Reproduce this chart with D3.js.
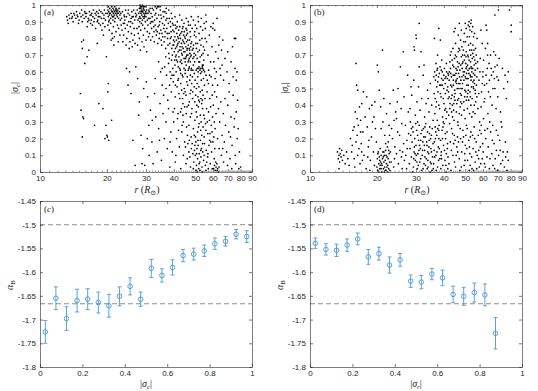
<!DOCTYPE html>
<html><head><meta charset="utf-8">
<script src="https://cdn.jsdelivr.net/npm/d3@7"></script>
<style>body{margin:0;background:#fff}</style>
</head><body>
<svg id="fig" width="538" height="391"></svg>
<script>
// panel (a): [r, |sigma_c|]
var scatterA = [
[13.2,.93],[13.3,.91],[13.5,.94],[13.6,.92],[13.8,.95],[14.0,.93],[14.1,.90],[14.3,.94],[14.5,.92],[14.6,.96],[14.8,.93],[15.0,.91],[15.1,.95],[15.3,.93],[15.5,.90],[15.6,.94],[15.8,.92],[15.9,.96],[13.4,.89],[14.2,.95],[14.9,.89],[15.4,.97],
[16.1,.93],[16.2,.95],[16.4,.90],[16.5,.92],[16.7,.96],[16.8,.94],[17.0,.91],[17.1,.95],[17.3,.93],[17.4,.97],[17.6,.92],[17.7,.95],[17.9,.94],[18.0,.96],[18.2,.91],[18.3,.95],[18.5,.97],[18.6,.93],[18.8,.96],[18.9,.92],[19.1,.95],[19.2,.89],[19.4,.94],[19.5,.97],[19.7,.91],[19.8,.95],[16.3,.87],[17.2,.88],[17.8,.86],[18.4,.89],[19.0,.85],[19.6,.87],[16.9,.89],[18.7,.88],[19.3,.82],[17.5,.90],[16.6,.91],[18.1,.90],
[15.4,.78],[15.7,.79],[15.5,.74],[15.9,.65],[16.3,.69],[16.6,.73],[15.2,.47],[15.3,.37],[15.6,.33],[15.7,.32],[15.5,.21],[18.1,.77],[18.4,.41],[17.6,.28],[19.2,.38],[19.9,.69],[20.3,.53],[20.2,.48],[19.8,.28],[20.0,.22],[20.4,.19],[20.1,.21],[21.0,.31],[19.6,.20],[21.2,.80],[21.5,.76],
[20.1,.95],[20.2,.97],[20.3,.93],[20.4,.96],[20.5,.94],[20.6,.98],[20.7,.95],[20.8,.92],[20.9,.97],[21.0,.94],[21.1,.96],[21.2,.93],[21.3,.98],[21.4,.95],[21.5,.97],[21.6,.94],[21.7,.96],[21.8,.92],[21.9,.95],[22.0,.98],[22.1,.94],[22.2,.96],[22.3,.93],[22.4,.97],[22.5,.95],[22.6,.92],[22.8,.96],[22.9,.94],[20.3,.99],[20.6,.95],[21.0,.99],[21.4,.93],[21.7,.99],[22.1,.97],[20.5,.91],[21.2,.96],[21.9,.97],[22.3,.95],
[20.2,.88],[20.5,.85],[20.8,.89],[21.1,.83],[21.4,.87],[21.7,.90],[22.0,.84],[22.3,.88],[22.6,.86],[22.9,.82],[20.9,.79],[21.6,.81],[22.5,.78],[20.4,.90],[21.3,.91],
[23.1,.95],[23.3,.92],[23.5,.96],[23.7,.89],[23.9,.94],[24.1,.91],[24.3,.97],[24.5,.93],[24.7,.88],[24.9,.95],[25.1,.90],[25.3,.94],[25.5,.87],[25.7,.92],[25.9,.96],[26.1,.89],[26.3,.93],[26.5,.86],[26.7,.91],[26.9,.95],[23.4,.85],[23.8,.82],[24.2,.86],[24.6,.80],[25.0,.84],[25.4,.78],[25.8,.83],[26.2,.79],[26.6,.82],[23.6,.78],[24.4,.76],[25.2,.74],[26.0,.75],[26.8,.77],[24.0,.89],[25.6,.90],[26.4,.97],[23.2,.88],
[27.2,.94],[27.4,.97],[27.6,.91],[27.8,.95],[28.0,.98],[28.1,.93],[28.2,.96],[28.3,.99],[28.4,.92],[28.5,.95],[28.6,.97],[28.7,.94],[28.8,.99],[28.9,.91],[29.0,.96],[29.1,.93],[29.2,.98],[29.3,.95],[29.4,.92],[29.5,.97],[29.6,.94],[29.7,.99],[29.8,.90],[29.9,.96],[30.0,.93],[30.2,.97],[30.4,.91],[30.6,.95],[30.8,.92],[28.2,1.0],[28.5,.99],[28.9,1.0],[29.3,.99],[28.1,.90],[28.6,.89],[29.0,.88],[27.9,.92],[28.4,.98],[28.7,.96],[29.1,.97],[29.5,.93],[29.8,.95],
[27.3,.86],[27.7,.83],[28.0,.80],[28.4,.85],[28.8,.78],[29.2,.82],[29.6,.86],[30.0,.79],[30.4,.84],[30.8,.81],[27.5,.76],[28.3,.73],[29.4,.75],[30.2,.72],[30.6,.88],[27.9,.87],
[31.0,.96],[31.2,.92],[31.4,.89],[31.6,.95],[31.8,.86],[32.0,.93],[32.2,.90],[32.4,.97],[32.6,.84],[32.8,.91],[33.0,.88],[33.2,.95],[33.4,.82],[33.6,.92],[33.8,.99],[34.0,.87],[34.2,.94],[34.4,.80],[34.6,.90],[34.8,.97],[35.0,.85],[35.2,.92],[35.4,.83],[35.6,.89],[35.8,.96],[31.1,.83],[31.5,.79],[32.1,.81],[32.7,.78],[33.3,.85],[33.9,.77],[34.5,.83],[35.1,.79],[35.7,.81],[34.1,.99],[34.7,.99],[33.5,.98],[31.3,.98],[32.5,.87],[35.3,.76],
[36.0,.93],[36.3,.88],[36.6,.84],[36.9,.91],[37.2,.86],[37.5,.80],[37.8,.89],[38.1,.83],[38.4,.77],[38.7,.87],[39.0,.81],[39.3,.92],[39.6,.85],[39.9,.79],[36.2,.78],[36.8,.74],[37.4,.83],[38.0,.71],[38.6,.80],[39.2,.74],[39.8,.88],[37.0,.95],[38.2,.92],[39.5,.89],[36.5,.81],[37.7,.76],[38.9,.84],
[40.1,.84],[40.3,.78],[40.5,.81],[40.7,.74],[40.9,.86],[41.1,.79],[41.3,.83],[41.5,.76],[41.7,.81],[41.9,.72],[42.1,.85],[42.3,.78],[42.5,.82],[42.7,.75],[42.9,.80],[43.1,.73],[43.3,.77],[43.5,.84],[43.7,.70],[43.9,.79],[44.1,.74],[44.3,.82],[44.5,.68],[44.7,.77],[44.9,.72],[45.1,.80],[45.3,.75],[45.5,.69],[45.7,.78],[45.9,.73],[46.1,.83],[46.3,.70],[46.5,.76],[46.7,.67],[46.9,.74],[47.1,.79],[47.3,.71],[47.5,.66],[47.7,.75],[47.9,.70],[48.2,.78],[48.5,.73],[48.8,.68],[49.1,.76],[49.4,.71],[49.7,.66],[40.2,.72],[40.6,.88],[41.0,.70],[41.4,.87],[41.8,.77],[42.2,.69],[42.6,.87],[43.0,.83],[43.4,.71],[43.8,.86],[44.2,.78],[44.6,.84],[45.0,.66],[45.4,.86],[45.8,.70],[46.2,.79],[46.6,.88],[47.0,.68],[47.4,.84],[47.8,.77],[48.4,.86],[48.9,.74],[49.5,.82],[42.4,.73],[43.6,.75],[44.8,.81],[46.0,.74],[41.2,.75],[39.4,.70],[39.7,.76],[40.4,.67],[42.8,.66],[45.6,.82],[47.2,.73],
[50.0,.88],[50.4,.81],[50.8,.86],[51.2,.77],[51.6,.90],[52.0,.83],[52.4,.79],[52.8,.87],[53.2,.92],[53.6,.80],[54.0,.85],[54.4,.75],[54.8,.89],[50.2,.70],[50.6,.74],[51.0,.68],[51.4,.72],[51.8,.66],[52.2,.73],[52.6,.69],[53.0,.76],[53.4,.70],[53.8,.64],[54.2,.71],[54.6,.67],[55.0,.73],[55.4,.80],[55.8,.94],[49.0,.91],[48.0,.93],[51.5,.93],
[50.5,.61],[51.0,.62],[51.5,.60],[52.0,.63],[52.5,.61],[53.0,.62],[53.5,.60],[54.0,.62],[54.5,.61],[52.8,.59],[53.8,.63],[51.8,.62],[54.3,.64],[55.1,.60],
[36.4,.63],[37.1,.58],[37.9,.65],[38.5,.60],[38.8,.56],[39.1,.67],[39.6,.62],[40.0,.58],[40.5,.64],[41.0,.60],[41.6,.66],[42.0,.56],[42.5,.62],[43.0,.59],[43.5,.65],[44.0,.57],[44.5,.62],[45.0,.59],[45.5,.64],[46.0,.57],[46.5,.61],[47.0,.63],[47.5,.58],[48.0,.62],[48.5,.57],[49.0,.64],[49.5,.59],[36.8,.69],[38.2,.68],[40.8,.69],[43.2,.67],[45.2,.68],[47.6,.69],[35.5,.62],[34.9,.60],[34.2,.66],
[38.3,.52],[39.0,.48],[39.8,.54],[40.6,.45],[41.4,.51],[42.2,.47],[43.0,.53],[43.8,.44],[44.6,.50],[45.4,.46],[46.2,.52],[47.0,.42],[47.8,.49],[48.6,.44],[49.4,.51],[50.2,.46],[51.0,.53],[51.8,.43],[52.6,.48],[53.4,.41],[54.2,.46],[55.0,.52],[44.0,.41],[45.8,.54],[46.6,.40],[48.2,.53],[50.6,.50],[52.2,.42],[53.0,.44],[53.8,.43],[41.8,.55],[43.4,.49],[45.0,.48],[47.4,.47],[49.8,.42],[51.4,.45],[36.9,.50],[37.6,.43],
[40.3,.38],[41.6,.32],[42.9,.36],[44.2,.30],[45.5,.35],[46.8,.28],[47.5,.33],[48.3,.38],[49.0,.26],[49.8,.31],[50.5,.36],[51.2,.24],[52.0,.29],[52.7,.34],[53.5,.22],[54.2,.27],[55.0,.32],[55.8,.25],[56.6,.30],[57.4,.36],[58.2,.23],[59.0,.28],[59.8,.33],[60.6,.21],[61.4,.26],[46.1,.22],[47.9,.21],[50.1,.21],[53.9,.38],[56.2,.38],[58.6,.39],[44.8,.39],[43.5,.24],[51.6,.39],[54.8,.21],
[45.2,.15],[46.0,.08],[46.8,.12],[47.6,.03],[48.4,.17],[49.2,.06],[49.6,.13],[50.0,.10],[50.3,.18],[50.6,.04],[50.9,.14],[51.2,.08],[51.5,.16],[51.8,.02],[52.1,.11],[52.4,.06],[52.7,.19],[53.0,.09],[53.3,.14],[53.6,.03],[54.0,.12],[54.5,.07],[55.0,.17],[55.5,.04],[56.0,.13],[56.8,.09],[57.6,.16],[58.4,.05],[59.2,.12],[60.0,.18],[60.8,.08],[50.4,.01],[51.0,.00],[52.5,.01],[47.0,.19],[48.8,.11],[55.8,.01],[57.2,.02],[53.8,.00],
[60.5,.02],[61.0,.04],[61.5,.01],[62.0,.03],[62.5,.05],[63.0,.02],[63.5,.00],[64.0,.03],[61.8,.06],[62.8,.01],
[55.5,.86],[56.2,.78],[57.0,.70],[57.8,.82],[58.6,.66],[59.4,.75],[60.2,.89],[61.0,.62],[61.8,.72],[62.6,.92],[63.4,.68],[64.2,.81],[65.0,.58],[66.0,.64],[67.0,.55],[56.6,.55],[58.0,.58],[59.8,.52],[61.4,.56],[63.0,.52],[64.6,.62],[57.4,.61],[60.6,.66],[62.2,.60],[56.0,.90],[58.8,.87],[60.0,.86],[61.2,.85],[65.6,.73],[63.8,.76],
[62.4,.45],[63.6,.38],[64.4,.30],[65.2,.42],[66.0,.22],[66.8,.35],[67.6,.18],[68.4,.28],[69.2,.12],[70.0,.40],[70.8,.24],[71.6,.08],[72.4,.33],[73.2,.16],[74.0,.46],[74.8,.27],[75.6,.10],[76.4,.36],[77.2,.20],[78.0,.26],[79.0,.12],[80.0,.03],[78.5,.02],[76.0,.05],[73.0,.02],[69.8,.04],[67.0,.06],[65.5,.10],[64.0,.14],[63.0,.20],[71.0,.48],[68.0,.44],[75.0,.32],[77.6,.43],[66.4,.14],[72.0,.21],
[68.0,.68],[69.5,.60],[71.0,.53],[72.5,.66],[74.0,.57],[75.5,.62],[77.0,.60],[75.0,.80],[70.0,.72],[73.5,.75],[76.5,.55],[66.5,.79],
[24.5,.62],[25.3,.60],[24.9,.52],[25.7,.47],[26.2,.19],[27.0,.63],[27.5,.56],[28.0,.42],[27.8,.34],[28.5,.22],[29.0,.14],[29.6,.04],[30.1,.54],[30.5,.45],[30.9,.28],[31.4,.37],[31.9,.18],[32.3,.05],[32.8,.47],[33.2,.33],[33.7,.12],[34.2,.26],[34.7,.41],[35.2,.07],[35.8,.35],[36.3,.20],[36.9,.30],[37.4,.14],[37.9,.38],[38.4,.03],[29.3,.50],[31.0,.10],[33.0,.56],[34.5,.19],[36.0,.46],[28.8,.05],[30.4,.20],[26.8,.04],[35.5,.52],[32.0,.31],
[38.8,.24],[39.4,.12],[40.0,.30],[40.6,.06],[41.2,.20],[41.8,.35],[42.4,.15],[43.0,.02],[43.6,.28],[44.2,.10],[44.8,.18],[45.4,.05],[39.7,.36],[42.0,.25],[44.0,.34],[38.5,.18],[40.9,.10],[43.3,.38],[45.7,.27],
[40.5,.93],[41.5,.90],[42.5,.94],[43.5,.91],[44.5,.89],[45.5,.92],[46.5,.90],[47.5,.88],[39.0,.95],[38.0,.97],[37.0,.98],[36.5,.96],[33.0,.99],[32.0,.98],[76.0,.80],
[39.3,.58],[40.7,.52],[41.9,.63],[42.6,.44],[43.7,.58],[44.3,.47],[45.1,.61],[45.9,.39],[46.4,.66],[47.2,.55],[47.9,.61],[48.7,.48],[49.3,.69],[49.9,.55],[50.8,.40],[51.3,.57],[51.9,.51],[52.3,.66],[53.2,.55],[53.7,.49],[54.4,.56],[55.3,.44],[55.9,.58],[56.5,.48],[57.3,.53],[58.1,.44],[58.9,.57],[59.6,.46],[60.3,.40],[61.1,.48],[48.1,.35],[49.5,.22],[50.9,.33],[51.7,.27],[52.9,.25],[53.1,.30],[54.6,.34],[55.6,.29],[56.9,.23],[57.9,.31],[58.7,.18],[59.5,.24],[60.9,.30],[62.0,.35],[46.3,.17],[47.3,.09],[48.0,.14],[49.0,.02],[49.8,.16],[50.7,.11],[51.4,.19],[52.0,.05],[52.9,.13],[53.9,.17],[54.8,.10],[56.3,.06],[57.0,.11],[58.0,.19],[59.6,.02],[61.2,.14],[41.2,.67],[42.8,.61],[44.4,.72],[46.8,.62],[48.8,.61],[50.3,.77],[49.7,.84],[47.6,.81],[45.8,.85],[44.0,.87],[42.0,.80],[40.0,.76],[38.6,.90],[37.3,.92],[36.1,.86],[35.0,.94],[34.4,.88],[33.7,.84],[32.9,.94],[31.7,.90],[30.9,.97],[30.3,.95],[27.0,.93],[26.0,.93],[25.0,.97],[24.0,.93],[23.0,.91],[22.7,.98],[19.4,.92],[18.3,.93],[17.0,.94],[16.0,.95],[14.7,.94],[13.9,.92]
];

// panel (b): [r, |sigma_r|]
var scatterB = [
[13.3,.12],[13.4,.08],[13.5,.10],[13.6,.06],[13.7,.11],[13.8,.09],[13.9,.13],[14.0,.07],[14.2,.10],[14.4,.05],[13.5,.02],[14.6,.12],[14.8,.08],[15.0,.04],[13.6,.14],
[15.2,.20],[15.4,.12],[15.6,.25],[15.8,.08],[16.0,.36],[16.1,.18],[16.2,.52],[16.3,.22],[16.4,.49],[16.5,.28],[16.6,.14],[16.7,.39],[16.8,.05],[16.9,.31],[17.0,.17],[17.1,.41],[17.3,.24],[17.5,.10],[17.7,.33],[17.9,.02],[18.1,.27],[18.3,.15],[18.5,.38],[18.7,.07],[18.9,.21],[19.1,.30],[19.3,.12],[19.5,.04],[19.7,.26],[19.9,.18],[16.1,.65],[17.4,.48],[18.0,.45],[19.0,.40],[19.6,.42],[15.9,.03],[16.4,.10],[17.2,.07],[18.6,.01],[15.5,.16],[16.9,.24],[18.2,.09],
[20.0,.03],[20.1,.08],[20.2,.01],[20.3,.12],[20.4,.05],[20.5,.09],[20.6,.02],[20.7,.14],[20.8,.06],[20.9,.10],[21.0,.00],[21.1,.04],[21.2,.08],[21.3,.12],[21.4,.02],[21.5,.06],[21.6,.10],[21.7,.03],[21.8,.07],[21.9,.13],[22.0,.01],[22.1,.05],[22.2,.09],[22.3,.15],[22.4,.04],[22.5,.08],[22.6,.02],[22.7,.11],[22.8,.06],[22.9,.01],[20.2,.11],[20.6,.07],[21.0,.05],[21.4,.09],[21.8,.01],[22.2,.03],[20.9,.02],[21.6,.00],[20.4,.00],[22.6,.13],
[20.1,.64],[20.3,.60],[20.5,.49],[21.2,.73],[20.8,.39],[21.3,.30],[21.7,.22],[22.1,.35],[22.5,.18],[22.9,.41],[23.3,.26],[23.7,.49],[24.1,.15],[24.5,.32],[24.9,.50],[25.3,.22],[25.7,.38],[26.1,.12],[26.5,.45],[26.9,.28],[27.3,.19],[27.7,.36],[23.5,.20],[24.7,.42],[25.9,.29],[26.3,.72],[25.5,.63],[27.5,.58],[23.0,.12],[24.0,.08],[25.0,.05],[26.0,.02],[27.0,.10],[23.8,.03],[25.4,.13],[26.6,.07],[24.3,.36],[22.7,.28],[21.9,.17],[21.5,.44],
[28.0,.05],[28.2,.14],[28.4,.22],[28.6,.09],[28.8,.18],[29.0,.27],[29.2,.03],[29.4,.12],[29.6,.20],[29.8,.07],[30.0,.16],[30.2,.25],[30.4,.02],[30.6,.11],[30.8,.19],[31.0,.28],[31.2,.06],[31.4,.14],[31.6,.23],[31.8,.01],[32.0,.10],[32.2,.18],[32.4,.26],[32.6,.05],[32.8,.13],[33.0,.21],[33.2,.29],[33.4,.08],[33.6,.16],[33.8,.24],[34.0,.03],[34.2,.11],[34.4,.19],[34.6,.27],[34.8,.06],[35.0,.14],[35.2,.22],[35.4,.01],[35.6,.09],[35.8,.17],[28.3,.30],[29.1,.24],[29.9,.29],[30.7,.04],[31.5,.08],[32.3,.02],[33.1,.04],[33.9,.12],[34.7,.00],[35.5,.26],[28.9,.00],[30.1,.10],[31.1,.16],[32.9,.09],[34.3,.15],[29.5,.15],[30.9,.13],[32.5,.21],[33.7,.02],[35.1,.05],
[28.2,.38],[28.7,.46],[29.3,.55],[29.8,.34],[30.3,.42],[30.8,.51],[31.3,.37],[31.8,.44],[32.3,.58],[32.8,.33],[33.3,.41],[33.8,.49],[34.3,.36],[34.8,.53],[35.3,.40],[35.8,.31],[30.0,.82],[30.1,.80],[31.0,.89],[29.4,.75],[29.5,.73],[31.6,.72],[32.6,.64],[28.5,.51],[34.0,.44],[31.0,.63],
[36.0,.05],[36.3,.18],[36.6,.27],[36.9,.10],[37.2,.22],[37.5,.03],[37.8,.15],[38.1,.28],[38.4,.08],[38.7,.19],[39.0,.12],[39.3,.25],[39.6,.04],[39.9,.16],[40.2,.29],[40.5,.07],[40.8,.20],[41.1,.11],[41.4,.24],[41.7,.02],[36.2,.13],[37.0,.01],[37.9,.07],[38.8,.02],[39.5,.20],[40.3,.13],[41.0,.00],[41.6,.17],[36.8,.24],[38.2,.14],
[36.1,.57],[36.4,.60],[36.7,.55],[37.0,.58],[37.3,.61],[37.6,.54],[37.9,.57],[38.2,.59],[38.5,.63],[38.8,.52],[39.1,.56],[39.4,.60],[39.7,.55],[40.0,.58],[40.3,.62],[40.6,.53],[40.9,.57],[41.2,.60],[41.5,.56],[41.8,.59],[36.5,.35],[37.1,.42],[37.7,.48],[38.3,.38],[38.9,.45],[39.5,.33],[40.1,.41],[40.7,.47],[41.3,.36],[41.9,.44],[36.9,.65],[37.5,.70],[38.6,.79],[38.0,.86],[39.2,.67],[36.3,.80],[40.4,.37],[39.8,.30],[41.0,.32],[37.4,.31],
[42.0,.48],[42.3,.55],[42.6,.38],[42.9,.62],[43.2,.44],[43.5,.51],[43.8,.33],[44.1,.58],[44.4,.41],[44.7,.68],[45.0,.47],[45.3,.54],[45.6,.36],[45.9,.61],[46.2,.43],[46.5,.72],[46.8,.50],[47.1,.57],[47.4,.39],[47.7,.64],[48.0,.46],[48.3,.75],[48.6,.53],[48.9,.60],[49.2,.42],[49.5,.67],[49.8,.49],[50.1,.78],[50.4,.56],[50.7,.63],[51.0,.45],[51.3,.70],[51.6,.52],[51.9,.59],[52.2,.81],[52.5,.48],[52.8,.66],[53.1,.55],[53.4,.73],[53.7,.44],[54.0,.62],[54.3,.51],[54.6,.69],[54.9,.40],[55.2,.58],[55.5,.47],[55.8,.65],[42.1,.34],[42.7,.41],[43.3,.57],[43.9,.64],[44.5,.31],[45.1,.70],[45.7,.53],[46.3,.30],[46.9,.65],[47.5,.47],[48.1,.34],[48.7,.70],[49.3,.55],[49.9,.32],[50.5,.72],[51.1,.38],[51.7,.76],[52.3,.35],[52.9,.57],[53.5,.33],[54.1,.76],[54.7,.55],[55.3,.35],[42.4,.60],[43.0,.52],[43.6,.46],[44.2,.52],[44.8,.58],[45.4,.62],[46.0,.56],[46.6,.59],[47.2,.73],[47.8,.55],[48.4,.62],[49.0,.73],[49.6,.60],[50.2,.65],[50.8,.52],[51.4,.61],[52.0,.67],[52.6,.58],[53.2,.62],[53.8,.68],[54.4,.59],[55.0,.53],[55.6,.74],[43.4,.36],[44.6,.45],[45.8,.41],[47.0,.35],[48.2,.41],[49.4,.37],[50.6,.43],[51.8,.43],[53.0,.40],[54.2,.36],[42.8,.70],[44.0,.74],[45.2,.77],[46.4,.63],[47.6,.79],[48.8,.66],[50.0,.57],[51.2,.64],[52.4,.73],[53.6,.57],[54.8,.64],[43.7,.40],[46.7,.44],[49.7,.45],[52.7,.45],[55.7,.42],[45.5,.55],[48.5,.50],[51.5,.56],[54.5,.50],[44.3,.37],[47.3,.53],[50.3,.48],[53.3,.51],
[45.0,.86],[46.5,.82],[48.0,.85],[49.5,.83],[50.5,.86],[51.5,.88],[52.0,.90],[52.5,.85],[53.0,.89],[53.5,.84],[54.0,.87],[54.5,.81],[55.0,.83],[52.2,.87],[53.2,.91],[51.0,.81],[56.5,.80],[47.0,.89],[44.5,.84],[50.0,.89],
[42.2,.05],[42.8,.18],[43.4,.26],[44.0,.10],[44.6,.22],[45.2,.03],[45.8,.15],[46.4,.28],[47.0,.08],[47.6,.20],[48.2,.12],[48.8,.25],[49.4,.04],[50.0,.16],[50.6,.28],[51.2,.07],[51.8,.19],[52.4,.11],[53.0,.24],[53.6,.02],[54.2,.14],[54.8,.27],[55.4,.06],[56.0,.18],[56.6,.10],[57.2,.22],[57.8,.03],[58.4,.15],[59.0,.28],[59.6,.08],[43.1,.01],[45.5,.10],[47.3,.01],[49.7,.11],[52.1,.01],[54.5,.01],[56.3,.02],[58.7,.05],[44.3,.17],[46.1,.21],[50.3,.22],[52.7,.21],[55.1,.20],[57.5,.13],
[56.0,.70],[56.8,.62],[57.6,.55],[58.4,.68],[59.2,.48],[60.0,.60],[60.8,.42],[61.6,.74],[62.4,.53],[63.2,.35],[64.0,.65],[64.8,.45],[65.6,.58],[66.4,.28],[67.2,.72],[68.0,.50],[68.8,.38],[69.6,.64],[57.0,.38],[58.0,.30],[59.0,.23],[60.4,.32],[61.2,.25],[62.8,.62],[63.6,.48],[65.0,.70],[66.0,.40],[67.6,.56],[69.0,.25],[70.0,.45],[56.4,.45],[59.6,.77],[61.0,.52],[64.4,.30],[66.8,.60],[62.0,.88],[58.8,.85],[60.0,.57],[68.4,.70],[63.0,.77],
[60.2,.12],[61.0,.05],[61.8,.20],[62.6,.09],[63.4,.15],[64.2,.02],[65.0,.24],[65.8,.11],[66.6,.04],[67.4,.17],[68.2,.08],[69.0,.13],[69.8,.01],[70.6,.10],[71.4,.19],[72.2,.05],[73.0,.27],[74.0,.12],[75.0,.03],[76.0,.09],[77.0,.01],[78.0,.07],[72.0,.36],[74.5,.50],[75.5,.58],[76.5,.44],[77.5,.54],[78.0,.60],[73.5,.62],[71.0,.68],[72.5,.30],[70.5,.55],[68.0,.94],[70.5,.97],[79.0,.97],[80.5,.88],[80.5,.84],[62.5,.85],
[42.5,.29],[43.8,.23],[45.0,.19],[46.2,.12],[47.4,.26],[48.6,.18],[49.8,.07],[51.0,.26],[52.2,.15],[53.4,.09],[36.6,.44],[37.2,.51],[38.0,.40],[38.6,.47],[39.4,.52],[40.0,.50],[40.8,.38],[41.4,.49],[42.0,.58],[42.6,.66],[43.2,.72],[44.4,.63],[45.6,.69],[46.8,.74],[48.0,.69],[49.2,.78],[50.4,.69],[51.6,.69],[52.8,.77],[54.0,.71],[55.2,.67],[56.4,.57],[46.0,.50],[48.3,.57],[50.7,.59],[53.1,.63],[55.4,.49],[44.9,.43],[47.7,.42],[51.3,.47],[28.6,.26],[29.7,.11],[30.5,.22],[31.9,.25],[33.5,.18],[34.9,.20],[30.3,.06],[32.7,.16],[27.8,.23],[27.2,.02],[26.4,.17],[24.8,.24],[23.9,.31],[22.8,.22],[37.6,.26],[39.1,.08],[40.6,.23],[41.8,.09],[36.4,.09],[38.0,.20],
[36.2,.47],[36.9,.39],[37.5,.62],[38.3,.52],[39.0,.61],[39.8,.44],[40.5,.56],[41.1,.65],[41.7,.51],[42.3,.45],[43.0,.59],[43.6,.67],[44.2,.55],[44.8,.49],[45.4,.59],[46.1,.66],[46.7,.53],[47.3,.61],[47.9,.50],[48.5,.65],[49.1,.58],[49.7,.70],[50.4,.62],[51.0,.56],[51.6,.49],[52.2,.62],[52.9,.70],[53.5,.60],[54.1,.54],[54.7,.73],[55.4,.61],[56.1,.52],[56.8,.66],[57.5,.47],[58.2,.60],[58.9,.39],[59.6,.53],[60.4,.67],[61.2,.44],[62.0,.58],[63.0,.70],[64.2,.55],[65.4,.62],[66.6,.50],[68.0,.63],[69.4,.57],[43.3,.13],[44.7,.06],[46.6,.18],[48.0,.03],[49.1,.21],[50.8,.14],[52.6,.04],[53.9,.22],[55.8,.12],[57.4,.08],[58.1,.25],[59.9,.17],[61.5,.03],[62.9,.26],[64.6,.08],[66.2,.19],[67.8,.02],[70.2,.22],[71.8,.13],[73.6,.07],[75.8,.18],[77.4,.12],[29.3,.08],[30.5,.30],[31.5,.19],[32.1,.13],[32.9,.27],[33.9,.07],[34.5,.23],[35.2,.12],[35.9,.02],[36.7,.20],[37.3,.12],[38.0,.25],[38.9,.10],[39.7,.27],[40.9,.04],[41.5,.14],[22.0,.10],[21.5,.12],[20.7,.04],[22.4,.00],[23.2,.06],[24.5,.11],[25.8,.09],[27.4,.14],[18.4,.19],[17.1,.12],[16.3,.32],[15.8,.27],[19.4,.33],[20.9,.26]
];

// panels (c) and (d): bin centres, alpha_B and half error bars
var binsC = [0.025,0.075,0.125,0.175,0.225,0.275,0.325,0.375,0.425,0.475,0.525,0.575,0.625,0.675,0.725,0.775,0.825,0.875,0.925,0.975];
var alphaC = [-1.726,-1.655,-1.698,-1.660,-1.657,-1.664,-1.671,-1.651,-1.630,-1.657,-1.592,-1.607,-1.590,-1.565,-1.562,-1.555,-1.540,-1.535,-1.520,-1.525];
var errC = [0.024,0.024,0.025,0.024,0.022,0.022,0.024,0.020,0.018,0.015,0.019,0.014,0.016,0.013,0.0125,0.012,0.012,0.010,0.010,0.0125];
var binsD = [0.025,0.075,0.125,0.175,0.225,0.275,0.325,0.375,0.425,0.475,0.525,0.575,0.625,0.675,0.725,0.775,0.825,0.875];
var alphaD = [-1.539,-1.552,-1.554,-1.543,-1.530,-1.568,-1.561,-1.585,-1.574,-1.619,-1.621,-1.604,-1.612,-1.647,-1.651,-1.643,-1.648,-1.729];
var errD = [0.011,0.012,0.013,0.013,0.0125,0.0155,0.0135,0.017,0.0135,0.013,0.014,0.012,0.0165,0.0175,0.019,0.02,0.023,0.033];
var refLines = [-1.5, -5/3];

// ticks
var rTicks = [10,20,30,40,50,60,70,80,90];
var sigmaTicks = [0,0.1,0.2,0.3,0.4,0.5,0.6,0.7,0.8,0.9,1];
var binTicks = [0,0.2,0.4,0.6,0.8,1];
var alphaTicks = [-1.8,-1.75,-1.7,-1.65,-1.6,-1.55,-1.5,-1.45];

var svg = d3.select('#fig');
var tickFont = 'Liberation Sans, Arial, Helvetica, sans-serif';
var mathFont = 'Liberation Serif, DejaVu Serif, Times New Roman, serif';
var axisCol = '#262626';
var blue = '#4a9ad6';

function styleAxis(sel) {
    sel.select('.domain').attr('stroke', axisCol).attr('stroke-width', 0.6);
    sel.selectAll('.tick line').attr('stroke', axisCol).attr('stroke-width', 0.6);
    sel.selectAll('text').attr('font-family', tickFont).attr('font-size', 8).attr('fill', axisCol);
}

function frame(g, x, y, xt, yt, minor) {
    var x0 = x.range()[0], x1 = x.range()[1], y0 = y.range()[1], y1 = y.range()[0];
    var fmt = function(d) { return String(d); };
    if (minor) {
        [[d3.axisBottom, y1], [d3.axisTop, y0]].forEach(function(a) {
            g.append('g').attr('transform', 'translate(0,' + a[1] + ')')
                .call(a[0](x).tickValues(minor).tickSize(-1.5).tickFormat(''))
                .call(function(s) { s.select('.domain').remove(); s.selectAll('line').attr('stroke', axisCol).attr('stroke-width', 0.5); });
        });
    }
    g.append('g').attr('transform', 'translate(0,' + y1 + ')')
        .call(d3.axisBottom(x).tickValues(xt).tickSize(-3).tickSizeOuter(0).tickPadding(3.5).tickFormat(fmt)).call(styleAxis);
    g.append('g').attr('transform', 'translate(0,' + y0 + ')')
        .call(d3.axisTop(x).tickValues(xt).tickSize(-3).tickSizeOuter(0).tickFormat('')).call(styleAxis);
    g.append('g').attr('transform', 'translate(' + x0 + ',0)')
        .call(d3.axisLeft(y).tickValues(yt).tickSize(-3).tickSizeOuter(0).tickPadding(4).tickFormat(fmt)).call(styleAxis);
    g.append('g').attr('transform', 'translate(' + x1 + ',0)')
        .call(d3.axisRight(y).tickValues(yt).tickSize(-3).tickSizeOuter(0).tickFormat('')).call(styleAxis);
}

function panelLabel(g, x, y, letter, italic) {
    var t = g.append('text').attr('x', x).attr('y', y).attr('font-family', mathFont).attr('font-size', 9).attr('fill', axisCol);
    t.append('tspan').text('(');
    t.append('tspan').attr('font-style', italic ? 'italic' : 'normal').text(letter);
    t.append('tspan').text(')');
}

function sigmaLabel(g, x, y, sub, rotate) {
    var t = g.append('text').attr('font-family', mathFont).attr('font-size', 10).attr('fill', axisCol)
        .attr('text-anchor', 'middle');
    if (rotate) t.attr('transform', 'translate(' + x + ',' + y + ') rotate(-90)');
    else t.attr('x', x).attr('y', y);
    t.append('tspan').text('|');
    t.append('tspan').attr('font-style', 'italic').text('σ');
    t.append('tspan').attr('font-style', 'italic').attr('font-size', 7).attr('dy', 2).text(sub);
    t.append('tspan').attr('dy', -2).text('|');
}

function rLabel(g, x, y) {
    var t = g.append('text').attr('x', x).attr('y', y).attr('font-family', mathFont).attr('font-size', 10)
        .attr('fill', axisCol).attr('text-anchor', 'middle');
    t.append('tspan').attr('font-style', 'italic').text('r');
    t.append('tspan').text(' (');
    t.append('tspan').attr('font-style', 'italic').text('R');
    t.append('tspan').attr('font-size', 7).attr('dy', 2).text('⊙');
    t.append('tspan').attr('dy', -2).text(')');
}

function alphaLabel(g, x, y) {
    var t = g.append('text').attr('font-family', mathFont).attr('font-size', 10).attr('fill', axisCol)
        .attr('text-anchor', 'middle').attr('transform', 'translate(' + x + ',' + y + ') rotate(-90)');
    t.append('tspan').attr('font-style', 'italic').text('α');
    t.append('tspan').attr('font-size', 7).attr('dy', 2).text('B');
}

function scatterPanel(data, x0, sub, letter) {
    var g = svg.append('g');
    var x = d3.scaleLog().domain([10, 90]).range([x0, x0 + 212]);
    var y = d3.scaleLinear().domain([0, 1]).range([172, 5]);
    g.append('g').selectAll('circle').data(data).enter().append('circle')
        .attr('cx', function(d) { return x(d[0]); })
        .attr('cy', function(d) { return y(d[1]); })
        .attr('r', 0.85)
        .attr('fill', '#000');
    var minor = d3.range(11, 90).filter(function(v) { return v % 10 !== 0; });
    frame(g, x, y, rTicks, sigmaTicks, minor);
    panelLabel(g, x0 + 4, 15, letter, false);
    rLabel(g, x0 + 107, 193);
    sigmaLabel(g, x0 - 22, 88, sub, true);
}

function errPanel(bins, vals, errs, x0, sub, letter, italic) {
    var g = svg.append('g');
    var x = d3.scaleLinear().domain([0, 1]).range([x0, x0 + 212]);
    var y = d3.scaleLinear().domain([-1.8, -1.45]).range([367, 201]);
    g.selectAll('line.ref').data(refLines).enter().append('line')
        .attr('x1', x(0)).attr('x2', x(1))
        .attr('y1', function(d) { return y(d); }).attr('y2', function(d) { return y(d); })
        .attr('stroke', '#808080').attr('stroke-width', 0.9).attr('stroke-dasharray', '5,3');
    var pts = bins.map(function(b, i) { return { b: b, v: vals[i], e: errs[i] }; });
    var eg = g.append('g');
    pts.forEach(function(p) {
        var cx = x(p.b), yt = y(p.v + p.e), yb = y(p.v - p.e);
        var segs = [[cx, yt, cx, yb], [cx - 2, yt, cx + 2, yt], [cx - 2, yb, cx + 2, yb]];
        segs.forEach(function(s) {
            eg.append('line').attr('x1', s[0]).attr('y1', s[1]).attr('x2', s[2]).attr('y2', s[3])
                .attr('stroke', blue).attr('stroke-width', 0.9);
        });
        eg.append('circle').attr('cx', cx).attr('cy', y(p.v)).attr('r', 2.3)
            .attr('fill', 'none').attr('stroke', blue).attr('stroke-width', 0.9);
    });
    frame(g, x, y, binTicks, alphaTicks, null);
    panelLabel(g, x0 + 4, 212, letter, italic);
    sigmaLabel(g, x0 + 106, 387, sub, false);
    alphaLabel(g, x0 - 27, 285);
}

scatterPanel(scatterA, 40, 'c', 'a');
scatterPanel(scatterB, 310, 'r', 'b');
errPanel(binsC, alphaC, errC, 40, 'c', 'c', true);
errPanel(binsD, alphaD, errD, 310, 'r', 'd', false);
</script>
</body></html>
